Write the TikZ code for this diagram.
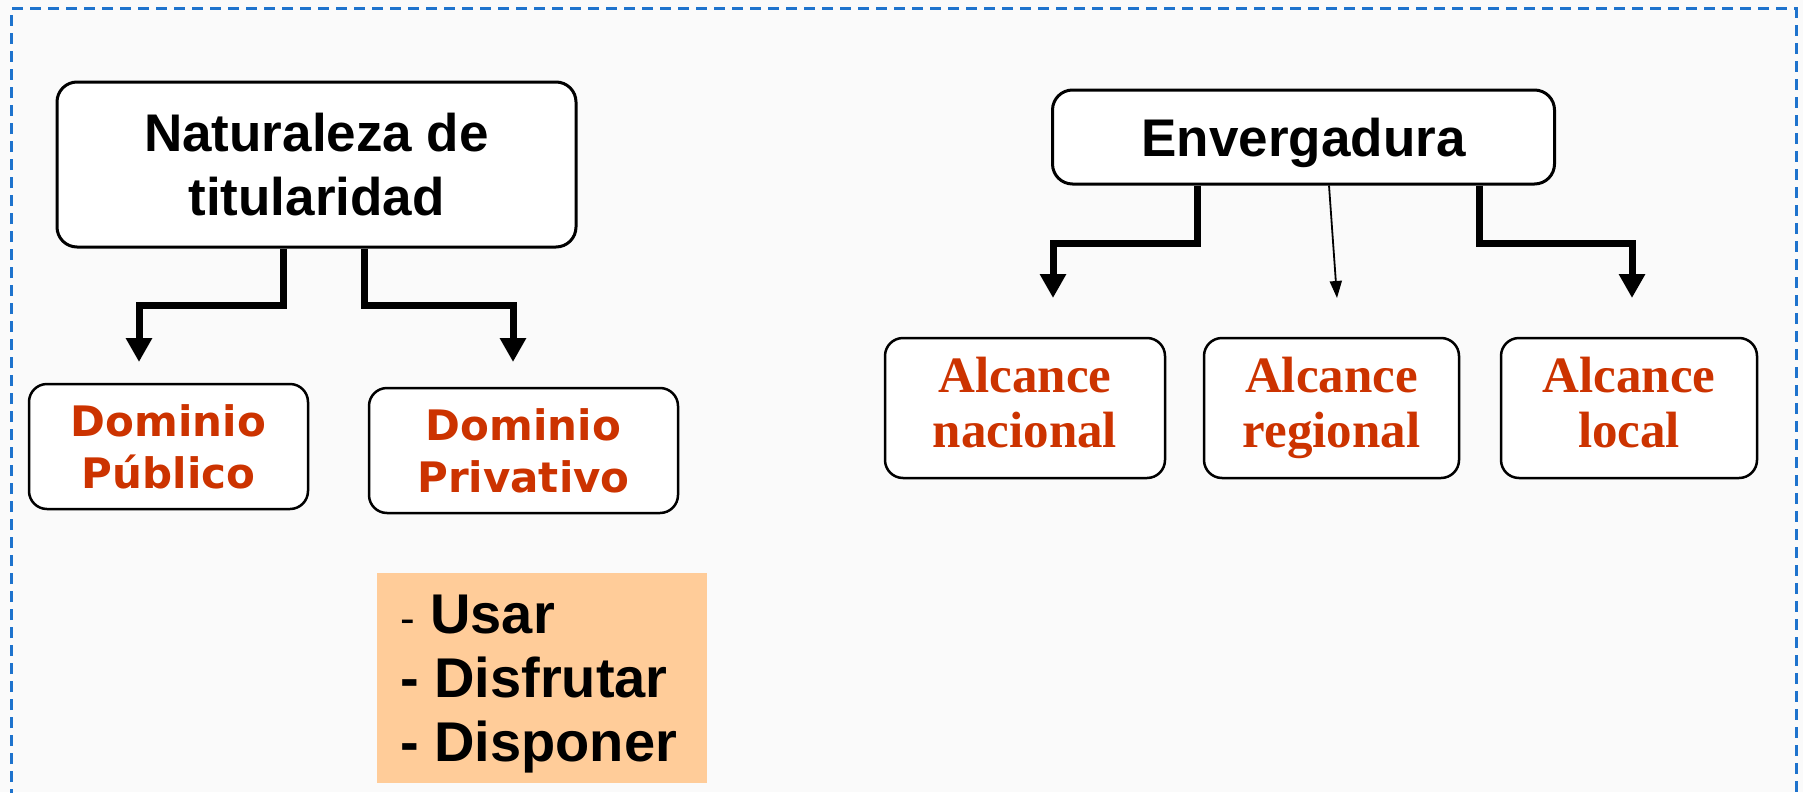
\documentclass[tikz,border=0pt]{standalone}
\usepackage{fontspec}
\setmainfont{Liberation Sans}
\newfontfamily\dejavu{DejaVu Sans}
\newfontfamily\libserif{Liberation Serif}
\usetikzlibrary{arrows.meta}
\definecolor{frameblue}{RGB}{30,115,205}
\definecolor{rustred}{RGB}{204,51,0}
\definecolor{peach}{RGB}{255,204,153}
\definecolor{paper}{RGB}{250,250,250}

\begin{document}
\begin{tikzpicture}[x=1pt,y=-1pt]

    \tikzstyle{mainbox}=[draw, line width=3pt, rounded corners=20pt, fill=white, align=center,
                         font=\bfseries\fontsize{53}{64}\selectfont]
    \tikzstyle{subbox}=[draw, line width=2.5pt, rounded corners=18pt, fill=white, align=center, text=rustred]
    \tikzstyle{domfont}=[font=\dejavu\bfseries\fontsize{42}{52}\selectfont]
    \tikzstyle{alcfont}=[font=\libserif\bfseries\fontsize{51}{55}\selectfont]
    \tikzstyle{thickarrow}=[line width=7pt, -{Triangle[width=25pt,length=24pt]}]
    \tikzstyle{thinarrow}=[line width=1.8pt, -{Triangle[width=12pt,length=17pt]}]

    \fill[paper] (0,0) rectangle (1803,792);
    \useasboundingbox (0,0) rectangle (1803,792);
    \draw[frameblue, line width=3pt, dash pattern=on 11pt off 7pt] (11,800) -- (11,9) -- (1796,9) -- (1796,800);

    \node[mainbox, minimum width=519pt, minimum height=165pt] (nat) at (316.5,164.5) {Naturaleza de\\titularidad};
    \node[mainbox, minimum width=502pt, minimum height=94pt, text depth=0pt] (env) at (1303.5,137) {Envergadura};

    \node[subbox, domfont, minimum width=279pt, minimum height=125pt] (pub)  at (168.5,446.5) {Dominio\\Público};
    \node[subbox, domfont, minimum width=309pt, minimum height=125pt] (priv) at (523.5,450.5) {Dominio\\Privativo};

    \node[subbox, alcfont, minimum width=280pt, minimum height=140pt] (nac) at (1025,408)   {Alcance\\nacional\vphantom{g}};
    \node[subbox, alcfont, minimum width=255pt, minimum height=140pt] (reg) at (1331.5,408) {Alcance\\regional};
    \node[subbox, alcfont, minimum width=256pt, minimum height=140pt] (loc) at (1629,408)   {Alcance\\local\vphantom{g}};

    \node[fill=peach, inner sep=0pt, anchor=north west] (acts) at (377,573)
        {\parbox[c][210pt][t]{330pt}{\leftskip=23pt\bfseries\fontsize{56}{64}\selectfont\vspace*{22pt}%
         {\mdseries\fontsize{44}{64}\selectfont -} Usar\\- Disfrutar\\- Disponer}};

    \coordinate (pubtip)  at (139,362);
    \coordinate (privtip) at (513,362);
    \coordinate (nactip)  at (1053,298);
    \coordinate (regtip)  at (1337,298);
    \coordinate (loctip)  at (1632,298);

    \draw[thickarrow] ([xshift=-33.5pt]nat.south)  -- ++(0,57) -| (pubtip);
    \draw[thickarrow] ([xshift=47.5pt]nat.south)   -- ++(0,57) -| (privtip);
    \draw[thickarrow] ([xshift=-106.5pt]env.south) -- ++(0,58) -| (nactip);
    \draw[thickarrow] ([xshift=175.5pt]env.south)  -- ++(0,58) -| (loctip);
    \draw[thinarrow]  ([xshift=25.5pt]env.south)   -- (regtip);

\end{tikzpicture}
\end{document}
